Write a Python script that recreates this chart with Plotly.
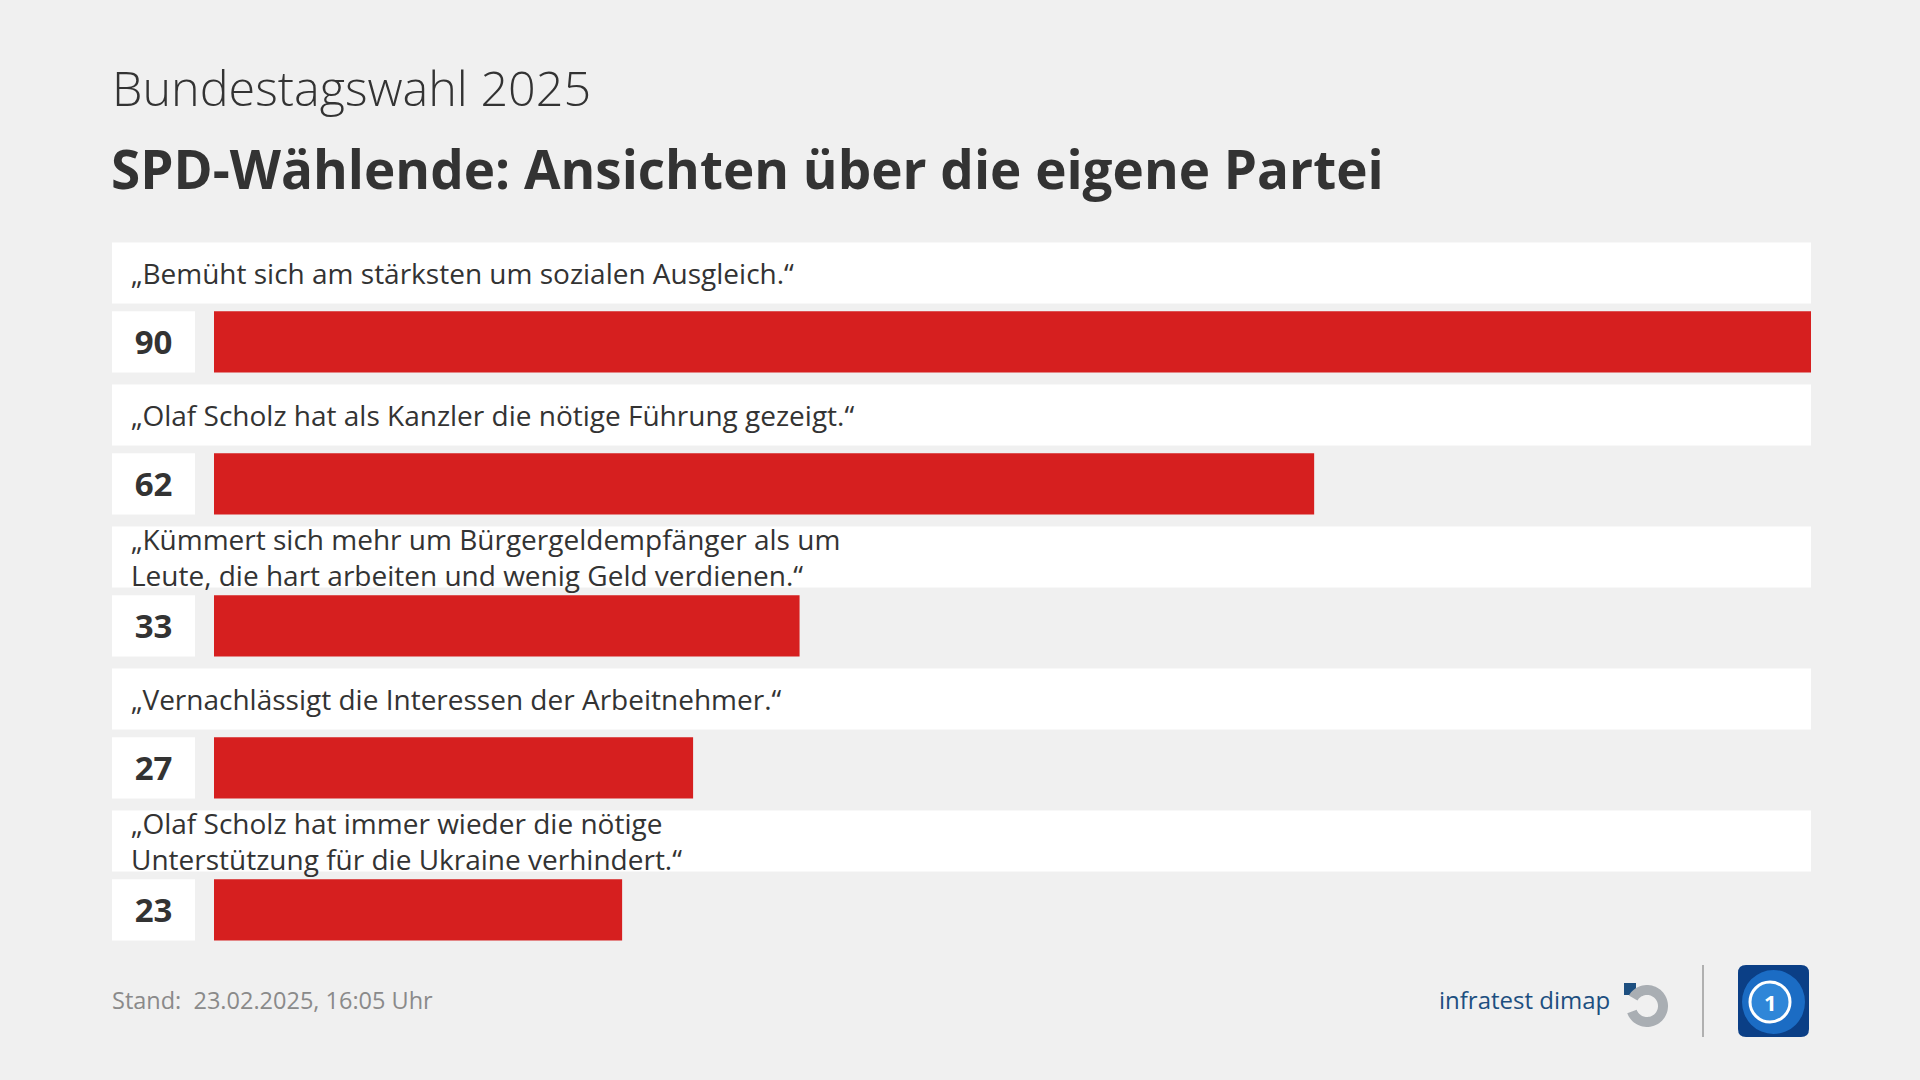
import numpy as np
import plotly.graph_objects as go

# ---------------- data ----------------
statements = [
    "„Bemüht sich am stärksten um sozialen Ausgleich.“",
    "„Olaf Scholz hat als Kanzler die nötige Führung gezeigt.“",
    "„Kümmert sich mehr um Bürgergeldempfänger als um<br>Leute, die hart arbeiten und wenig Geld verdienen.“",
    "„Vernachlässigt die Interessen der Arbeitnehmer.“",
    "„Olaf Scholz hat immer wieder die nötige<br>Unterstützung für die Ukraine verhindert.“",
]
values = [90, 62, 33, 27, 23]
supertitle = "Bundestagswahl 2025"
title = "SPD-Wählende: Ansichten über die eigene Partei"
footer = "Stand:  23.02.2025, 16:05 Uhr"
brand = "infratest dimap"

# ---------------- style ----------------
W, H = 1920, 1080
BG = "#f0f0f0"
RED = "#d61f1f"
TXT = "#333333"
FONT = "Open Sans"
ROW_H = 0.43        # bar thickness in row units
LABEL_OFF = 0.485   # label row sits above its bar

pos = list(range(len(values)))
label_pos = [p - LABEL_OFF for p in pos]


def px(x):
    return x / W


def py(y):
    return 1 - y / H


fig = go.Figure()

# red value bars
fig.add_trace(go.Bar(
    y=pos, x=values, orientation="h", width=ROW_H,
    marker=dict(color=RED, line=dict(width=0)),
    xaxis="x", yaxis="y", hoverinfo="skip", showlegend=False,
))
# white statement boxes
fig.add_trace(go.Bar(
    y=label_pos, x=[1] * len(values), orientation="h", width=ROW_H,
    marker=dict(color="white", line=dict(width=0)),
    xaxis="x2", yaxis="y", hoverinfo="skip", showlegend=False,
))
# white number boxes with value text
fig.add_trace(go.Bar(
    y=pos, x=[1] * len(values), orientation="h", width=ROW_H,
    marker=dict(color="white", line=dict(width=0)),
    text=[str(v) for v in values], texttemplate="<b>%{text}</b>",
    textposition="inside", insidetextanchor="middle", textangle=0,
    textfont=dict(family=FONT, size=33, color=TXT),
    constraintext="none",
    xaxis="x3", yaxis="y", hoverinfo="skip", showlegend=False,
))

annotations = []
for lp, s in zip(label_pos, statements):
    annotations.append(dict(
        x=px(129), y=lp, xref="paper", yref="y", text=s, showarrow=False,
        xanchor="left", yanchor="middle", align="left",
        font=dict(family=FONT, size=28, color=TXT),
    ))

annotations += [
    dict(x=px(110), y=py(87), xref="paper", yref="paper", text=supertitle,
         showarrow=False, xanchor="left", yanchor="middle",
         font=dict(family=FONT, size=48.5, color=TXT, weight=300)),
    dict(x=px(109), y=py(168), xref="paper", yref="paper", text="<b>" + title + "</b>",
         showarrow=False, xanchor="left", yanchor="middle",
         font=dict(family=FONT, size=53, color=TXT)),
    dict(x=px(110), y=py(1000), xref="paper", yref="paper", text=footer,
         showarrow=False, xanchor="left", yanchor="middle",
         font=dict(family=FONT, size=23.5, color="#8a8a8a")),
    dict(x=px(1612), y=py(999), xref="paper", yref="paper", text=brand,
         showarrow=False, xanchor="right", yanchor="middle",
         font=dict(family=FONT, size=24, color="#1d4f80")),
    dict(x=px(1770), y=py(1002), xref="paper", yref="paper", text="<b>1</b>",
         showarrow=False, xanchor="center", yanchor="middle",
         font=dict(family=FONT, size=22, color="white")),
]

shapes = []
# infratest dimap logo: small square + open ring
shapes.append(dict(type="rect", xref="paper", yref="paper",
                   x0=px(1624), x1=px(1636), y0=py(995), y1=py(983),
                   fillcolor="#1d4f80", line=dict(width=0)))
cx, cy, ro, ri = 1647, 1006, 21, 11
ang = np.linspace(np.radians(-160), np.radians(150), 60)
outer = [(cx + ro * np.cos(a), cy - ro * np.sin(a)) for a in ang]
inner = [(cx + ri * np.cos(a), cy - ri * np.sin(a)) for a in ang[::-1]]
pts = outer + inner
path = "M " + " L ".join(f"{px(x):.5f},{py(y):.5f}" for x, y in pts) + " Z"
shapes.append(dict(type="path", path=path, xref="paper", yref="paper",
                   fillcolor="#a9aeb3", line=dict(width=0)))
# divider
shapes.append(dict(type="line", xref="paper", yref="paper",
                   x0=px(1703), x1=px(1703), y0=py(965), y1=py(1037),
                   line=dict(color="#b0b0b0", width=2)))
# tagesschau icon: rounded square
x0, x1, y0, y1, r = 1738, 1809, 965, 1037, 8
rr = (f"M {px(x0 + r)},{py(y0)} L {px(x1 - r)},{py(y0)} Q {px(x1)},{py(y0)} {px(x1)},{py(y0 + r)} "
      f"L {px(x1)},{py(y1 - r)} Q {px(x1)},{py(y1)} {px(x1 - r)},{py(y1)} "
      f"L {px(x0 + r)},{py(y1)} Q {px(x0)},{py(y1)} {px(x0)},{py(y1 - r)} "
      f"L {px(x0)},{py(y0 + r)} Q {px(x0)},{py(y0)} {px(x0 + r)},{py(y0)} Z")
shapes.append(dict(type="path", path=rr, xref="paper", yref="paper",
                   fillcolor="#0b3f86", line=dict(width=0)))
shapes.append(dict(type="circle", xref="paper", yref="paper",
                   x0=px(1742), x1=px(1805), y0=py(1034), y1=py(970),
                   fillcolor="#1b6cc4", line=dict(width=0)))
shapes.append(dict(type="circle", xref="paper", yref="paper",
                   x0=px(1750), x1=px(1790), y0=py(1022), y1=py(982),
                   fillcolor="#2f86d8", line=dict(color="white", width=3)))

axis_off = dict(showgrid=False, zeroline=False, showticklabels=False,
                showline=False, ticks="", fixedrange=True)

fig.update_layout(
    width=W, height=H, autosize=False,
    margin=dict(l=0, r=0, t=0, b=0, pad=0),
    paper_bgcolor=BG, plot_bgcolor="rgba(0,0,0,0)",
    xaxis=dict(domain=[214 / W, 1811 / W], range=[0, 90], anchor="y", **axis_off),
    xaxis2=dict(domain=[112 / W, 1811 / W], range=[0, 1], anchor="y", **axis_off),
    xaxis3=dict(domain=[112 / W, 195 / W], range=[0, 1], anchor="y", **axis_off),
    yaxis=dict(domain=[0, 1], range=[(H - 341.85) / 142.0, -341.85 / 142.0], **axis_off),
    annotations=annotations,
    shapes=shapes,
    showlegend=False,
)

fig.write_html("out.html")
